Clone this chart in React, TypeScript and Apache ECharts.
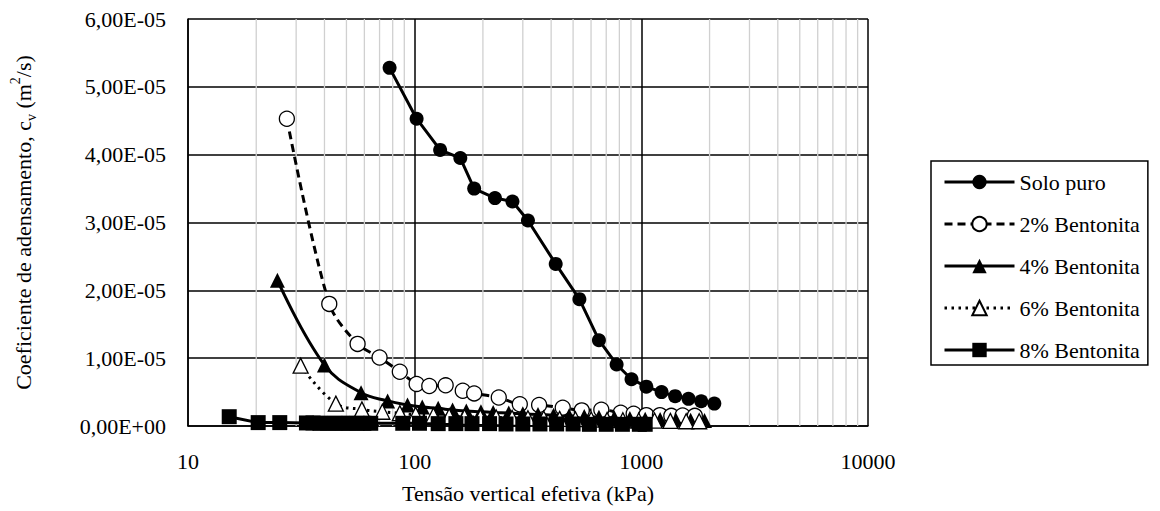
import React, { useEffect, useRef } from "react";
import * as echarts from "echarts";

// Tensão vertical efetiva (kPa) and coeficiente de adensamento c_v (m²/s)
const soloPuroX = [77.5, 102, 129.5, 159, 183, 226, 270, 316, 419, 533, 650, 778, 905, 1052, 1228, 1410, 1615, 1837, 2099];
const soloPuroY = [5.28e-5, 4.53e-5, 4.07e-5, 3.95e-5, 3.5e-5, 3.36e-5, 3.31e-5, 3.03e-5, 2.39e-5, 1.87e-5, 1.265e-5, 0.907e-5, 0.69e-5, 0.58e-5, 0.5e-5, 0.44e-5, 0.4e-5, 0.365e-5, 0.33e-5];

const bent2X = [27.3, 42, 56, 70, 86, 102, 116, 137, 163, 183, 235, 291, 354, 450, 546, 666, 811, 925, 1052, 1208, 1356, 1521, 1722];
const bent2Y = [4.53e-5, 1.8e-5, 1.21e-5, 1.01e-5, 0.8e-5, 0.62e-5, 0.59e-5, 0.6e-5, 0.52e-5, 0.48e-5, 0.42e-5, 0.32e-5, 0.31e-5, 0.27e-5, 0.23e-5, 0.24e-5, 0.195e-5, 0.18e-5, 0.16e-5, 0.16e-5, 0.15e-5, 0.155e-5, 0.15e-5];

const bent4X = [24.8, 40, 58, 76, 93, 108, 127, 147, 169, 196, 222, 260, 300, 350, 410, 480, 560, 650, 760, 890, 1040, 1210, 1420, 1650, 1900];
const bent4Y = [2.15e-5, 0.9e-5, 0.49e-5, 0.37e-5, 0.31e-5, 0.28e-5, 0.26e-5, 0.235e-5, 0.22e-5, 0.21e-5, 0.2e-5, 0.19e-5, 0.18e-5, 0.17e-5, 0.16e-5, 0.15e-5, 0.14e-5, 0.13e-5, 0.12e-5, 0.11e-5, 0.1e-5, 0.095e-5, 0.09e-5, 0.085e-5, 0.08e-5];

const bent6X = [31.4, 44.9, 58.5, 72, 86, 101, 121, 142, 166, 195, 229, 269, 316, 371, 436, 512, 601, 706, 829, 974, 1144, 1343, 1577, 1800];
const bent6Y = [0.89e-5, 0.33e-5, 0.245e-5, 0.21e-5, 0.19e-5, 0.165e-5, 0.155e-5, 0.145e-5, 0.135e-5, 0.13e-5, 0.125e-5, 0.12e-5, 0.115e-5, 0.11e-5, 0.105e-5, 0.1e-5, 0.095e-5, 0.09e-5, 0.085e-5, 0.08e-5, 0.08e-5, 0.075e-5, 0.07e-5, 0.07e-5];

const bent8X = [15.2, 20.4, 25.4, 33.3, 35.6, 38.2, 41.3, 44.4, 48, 51.4, 55.7, 59.7, 64, 88.6, 105, 127, 152, 179, 214, 253, 300, 357, 423, 500, 590, 700, 825, 980, 1040];
const bent8Y = [0.137e-5, 0.05e-5, 0.05e-5, 0.045e-5, 0.045e-5, 0.04e-5, 0.04e-5, 0.04e-5, 0.04e-5, 0.04e-5, 0.04e-5, 0.04e-5, 0.04e-5, 0.04e-5, 0.04e-5, 0.035e-5, 0.035e-5, 0.035e-5, 0.035e-5, 0.03e-5, 0.03e-5, 0.03e-5, 0.03e-5, 0.03e-5, 0.025e-5, 0.025e-5, 0.025e-5, 0.025e-5, 0.025e-5];

const minorGridX = [20, 30, 40, 50, 60, 70, 80, 90, 200, 300, 400, 500, 600, 700, 800, 900, 2000, 3000, 4000, 5000, 6000, 7000, 8000, 9000];

const seriesNames = ["Solo puro", "2% Bentonita", "4% Bentonita", "6% Bentonita", "8% Bentonita"];

const FONT = "Liberation Serif";

const pair = (xs: number[], ys: number[]) => xs.map((x, i) => [x, ys[i]]);

const fmtSci = (v: number) => {
  if (v === 0) return "0,00E+00";
  const [m, e] = v.toExponential(2).split("e");
  const n = parseInt(e, 10);
  return m.replace(".", ",") + "E" + (n < 0 ? "-" : "+") + Math.abs(n).toString().padStart(2, "0");
};

export default function App() {
  const ref = useRef<HTMLDivElement>(null);
  useEffect(() => {
    if (!ref.current) return;
    const chart = echarts.init(ref.current, null, { renderer: "svg" });
    chart.setOption({
      animation: false,
      grid: { left: 172, right: 292, top: 19, bottom: 85 },
      legend: {
        data: seriesNames,
        orient: "vertical",
        left: 931,
        top: 161,
        padding: [10, 8, 4, 12],
        itemGap: 20,
        itemWidth: 70,
        itemHeight: 18,
        borderColor: "#000",
        borderWidth: 1.5,
        textStyle: { fontFamily: FONT, fontSize: 22, color: "#000" },
        lineStyle: { width: 3 },
        selectedMode: false,
      },
      xAxis: {
        type: "log",
        min: 10,
        max: 10000,
        name: "Tensão vertical efetiva (kPa)",
        nameLocation: "middle",
        nameGap: 56,
        nameTextStyle: { fontFamily: FONT, fontSize: 22, color: "#000" },
        axisLine: { lineStyle: { color: "#000", width: 1.5 } },
        axisTick: { show: false },
        axisLabel: { fontFamily: FONT, fontSize: 22, color: "#000", margin: 24, formatter: (v: number) => String(Math.round(v)) },
        splitLine: { show: true, lineStyle: { color: "#000", width: 1.5 } },
      },
      yAxis: {
        type: "value",
        min: 0,
        max: 6e-5,
        interval: 1e-5,
        name: "{a|Coeficiente de adensamento, c}{s|v}{a| (m}{p|2}{a|/s)}",
        nameLocation: "middle",
        nameGap: 150,
        nameTextStyle: {
          fontFamily: FONT,
          fontSize: 22,
          color: "#000",
          rich: {
            a: { fontFamily: FONT, fontSize: 22, color: "#000", lineHeight: 30 },
            s: { fontFamily: FONT, fontSize: 14, color: "#000", lineHeight: 30, verticalAlign: "bottom" },
            p: { fontFamily: FONT, fontSize: 14, color: "#000", lineHeight: 30, verticalAlign: "top" },
          },
        },
        axisLine: { show: true, lineStyle: { color: "#000", width: 1.5 } },
        axisTick: { show: false },
        axisLabel: { fontFamily: FONT, fontSize: 22, color: "#000", margin: 22, formatter: fmtSci },
        splitLine: { show: true, lineStyle: { color: "#000", width: 1.5 } },
      },
      series: [
        {
          name: "minor",
          type: "custom",
          z: 1,
          silent: true,
          data: minorGridX.map((x) => [x, 0]),
          encode: { x: 0, y: 1 },
          renderItem: (params: any, api: any) => {
            const px = api.coord([api.value(0), 0])[0];
            const cs = params.coordSys;
            return {
              type: "line",
              shape: { x1: px, y1: cs.y, x2: px, y2: cs.y + cs.height },
              style: { stroke: "#d0d0d0", lineWidth: 1.3 },
            };
          },
        },
        {
          name: seriesNames[0],
          type: "line",
          data: pair(soloPuroX, soloPuroY),
          symbol: "circle",
          symbolSize: 14,
          lineStyle: { color: "#000", width: 3 },
          itemStyle: { color: "#000" },
        },
        {
          name: seriesNames[1],
          type: "line",
          smooth: 0.3,
          data: pair(bent2X, bent2Y),
          symbol: "circle",
          symbolSize: 15,
          lineStyle: { color: "#000", width: 3, type: [8, 5] },
          itemStyle: { color: "#fff", borderColor: "#000", borderWidth: 1.3 },
        },
        {
          name: seriesNames[2],
          type: "line",
          smooth: 0.4,
          data: pair(bent4X, bent4Y),
          symbol: "triangle",
          symbolSize: 15,
          lineStyle: { color: "#000", width: 3 },
          itemStyle: { color: "#000" },
        },
        {
          name: seriesNames[3],
          type: "line",
          smooth: 0.4,
          data: pair(bent6X, bent6Y),
          symbol: "triangle",
          symbolSize: 15,
          lineStyle: { color: "#000", width: 3, type: [2.5, 4.5] },
          itemStyle: { color: "#fff", borderColor: "#000", borderWidth: 1.3 },
        },
        {
          name: seriesNames[4],
          type: "line",
          data: pair(bent8X, bent8Y),
          symbol: "rect",
          symbolSize: 15,
          lineStyle: { color: "#000", width: 3 },
          itemStyle: { color: "#000" },
        },
      ],
    });
    return () => chart.dispose();
  }, []);
  return <div ref={ref} style={{ width: 1160, height: 511, position: "absolute", left: 0, top: 0 }} />;
}
